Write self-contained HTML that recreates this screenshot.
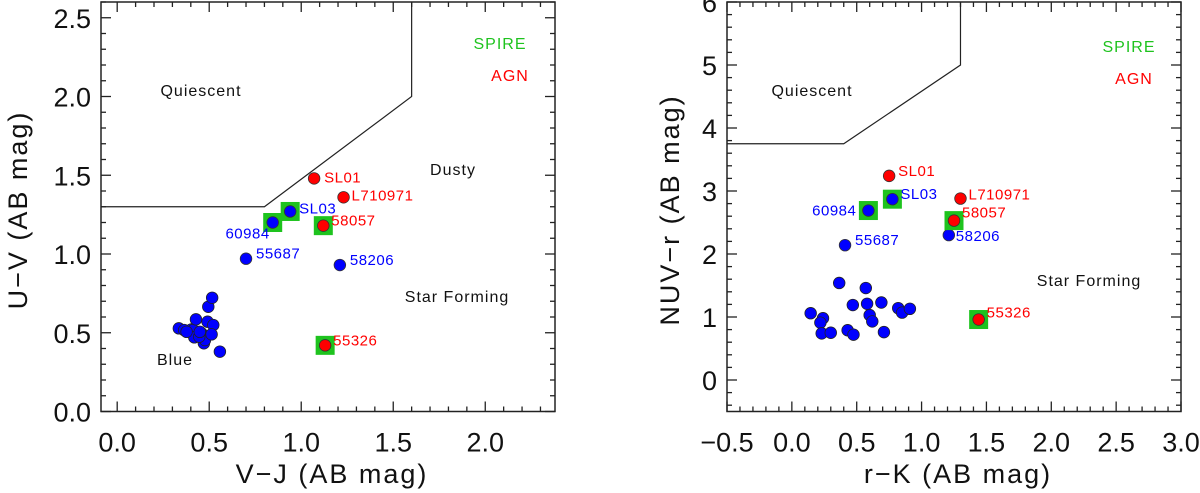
<!DOCTYPE html>
<html><head><meta charset="utf-8"><style>
html,body{margin:0;padding:0;background:#fff;}
svg{display:block;font-family:"Liberation Sans",sans-serif;}
</style></head><body>
<svg id="c" width="1200" height="493" viewBox="0 0 1200 493"></svg>
<script>
// ---- Left panel data (V-J vs U-V) ----
const leftRedX = [1.07, 1.23, 1.12, 1.13];
const leftRedY = [1.48, 1.36, 1.18, 0.42];
const leftRedNames = ["SL01", "L710971", "58057", "55326"];
const leftRedSpire = [false, false, true, true];
const leftBlueX = [0.94, 0.845, 0.70, 1.21];
const leftBlueY = [1.27, 1.20, 0.97, 0.93];
const leftBlueNames = ["SL03", "60984", "55687", "58206"];
const leftBlueSpire = [true, true, false, false];
const leftClusterX = [0.335,0.364,0.404,0.413,0.428,0.419,0.459,0.471,0.477,0.495,0.516,0.491,0.522,0.513,0.558,0.446,0.377,0.449];
const leftClusterY = [0.528,0.517,0.521,0.517,0.585,0.471,0.496,0.433,0.454,0.665,0.722,0.570,0.549,0.490,0.380,0.475,0.506,0.506];
const leftBoundX = [-0.09, 0.80, 1.60, 1.60];
const leftBoundY = [1.30, 1.30, 2.00, 2.60];
const leftXTicks = [0.0, 0.5, 1.0, 1.5, 2.0];
const leftXTickLabels = ["0.0", "0.5", "1.0", "1.5", "2.0"];
const leftYTicks = [0.0, 0.5, 1.0, 1.5, 2.0, 2.5];
const leftYTickLabels = ["0.0", "0.5", "1.0", "1.5", "2.0", "2.5"];

// ---- Right panel data (r-K vs NUV-r) ----
const rightRedX = [0.75, 1.30, 1.25, 1.44];
const rightRedY = [3.24, 2.88, 2.53, 0.96];
const rightRedNames = ["SL01", "L710971", "58057", "55326"];
const rightRedSpire = [false, false, true, true];
const rightBlueX = [0.775, 0.59, 0.41, 1.21];
const rightBlueY = [2.87, 2.69, 2.14, 2.30];
const rightBlueNames = ["SL03", "60984", "55687", "58206"];
const rightBlueSpire = [true, true, false, false];
const rightClusterX = [0.145,0.24,0.22,0.23,0.30,0.365,0.43,0.475,0.47,0.57,0.58,0.60,0.62,0.69,0.71,0.82,0.85,0.91];
const rightClusterY = [1.06,0.98,0.91,0.74,0.75,1.54,0.79,0.72,1.19,1.46,1.21,1.03,0.93,1.23,0.76,1.14,1.07,1.13];
const rightBoundX = [-0.5, 0.40, 1.30, 1.30];
const rightBoundY = [3.75, 3.75, 5.00, 6.00];
const rightXTicks = [-0.5, 0.0, 0.5, 1.0, 1.5, 2.0, 2.5, 3.0];
const rightXTickLabels = ["\u22120.5", "0.0", "0.5", "1.0", "1.5", "2.0", "2.5", "3.0"];
const rightYTicks = [0, 1, 2, 3, 4, 5, 6];
const rightYTickLabels = ["0", "1", "2", "3", "4", "5", "6"];

const NS = "http://www.w3.org/2000/svg";
const svg = document.getElementById("c");
function mk(tag, attrs, parent) {
  const e = document.createElementNS(NS, tag);
  for (const k in attrs) e.setAttribute(k, attrs[k]);
  (parent || svg).appendChild(e);
  return e;
}

function panel(cfg) {
  const g = mk("g", {});
  
  
  const sx = v => cfg.x0 + (v - cfg.xmin) / (cfg.xmax - cfg.xmin) * (cfg.x1 - cfg.x0);
  const sy = v => cfg.y1 - (v - cfg.ymin) / (cfg.ymax - cfg.ymin) * (cfg.y1 - cfg.y0);

  // boundary
  const pts = cfg.bx.map((v, i) => sx(v) + "," + sy(cfg.by[i])).join(" ");
  const bl = mk("polyline", {points: pts, fill: "none", stroke: "#222", "stroke-width": 1.2}, g);
  
  

  // ticks
  const tg = mk("g", {stroke: "#222", "stroke-width": 1.3}, g);
  
  
  for (let v = cfg.xmin; v <= cfg.xmax + 1e-9; v += 0.001) {}
  const xStart = Math.ceil(cfg.xmin / cfg.xminor - 1e-6);
  const xEnd = Math.floor(cfg.xmax / cfg.xminor + 1e-6);
  for (let i = xStart; i <= xEnd; i++) {
    const v = i * cfg.xminor;
    const major = Math.abs(v / cfg.xmajor - Math.round(v / cfg.xmajor)) < 1e-6;
    const L = major ? 10 : 5;
    const X = sx(v);
    mk("line", {x1: X, x2: X, y1: cfg.y1, y2: cfg.y1 - L}, tg);
    mk("line", {x1: X, x2: X, y1: cfg.y0, y2: cfg.y0 + L}, tg);
  }
  const yStart = Math.ceil(cfg.ymin / cfg.yminor - 1e-6);
  const yEnd = Math.floor(cfg.ymax / cfg.yminor + 1e-6);
  for (let i = yStart; i <= yEnd; i++) {
    const v = i * cfg.yminor;
    const major = Math.abs(v / cfg.ymajor - Math.round(v / cfg.ymajor)) < 1e-6;
    const L = major ? 10 : 5;
    const Y = sy(v);
    mk("line", {x1: cfg.x0, x2: cfg.x0 + L, y1: Y, y2: Y}, tg);
    mk("line", {x1: cfg.x1, x2: cfg.x1 - L, y1: Y, y2: Y}, tg);
  }
  // frame
  const fr = mk("rect", {x: cfg.x0, y: cfg.y0, width: cfg.x1 - cfg.x0, height: cfg.y1 - cfg.y0, fill: "none", stroke: "#222", "stroke-width": 1.5}, g);
  
  

  // tick labels
  cfg.xt.forEach((v, i) => {
    const t = mk("text", {x: sx(v), y: cfg.y1 + 40, "text-anchor": "middle", "font-size": 27, fill: "#111"}, g);
    t.textContent = cfg.xtl[i];
    
    
  });
  cfg.yt.forEach((v, i) => {
    const t = mk("text", {x: cfg.x0 - 10, y: sy(v) + 10, "text-anchor": "end", "font-size": 27, fill: "#111"}, g);
    t.textContent = cfg.ytl[i];
    
    
  });

  // axis titles
  const xt = mk("text", {x: cfg.xtitleX, y: 483, "text-anchor": "middle", "font-size": 27, fill: "#111", "letter-spacing": "2"}, g);
  xt.textContent = cfg.xtitle;
  
  
  const yt = mk("text", {x: 0, y: 0, "text-anchor": "middle", "font-size": 27, fill: "#111", "letter-spacing": "2",
    transform: "translate(" + cfg.ytitleX + "," + cfg.ytitleY + ") rotate(-90)"}, g);
  yt.textContent = cfg.ytitle;
  
  

  // cluster points
  cfg.cx.forEach((v, i) => {
    const c = mk("circle", {cx: sx(v), cy: sy(cfg.cy[i]), r: 5.8, fill: "#0000ff", stroke: "#222", "stroke-width": 0.8}, g);
    
    
  });

  function labelled(xs, ys, names, spire, color, kind) {
    xs.forEach((v, i) => {
      const X = sx(v), Y = sy(ys[i]);
      if (spire[i]) {
        const s = mk("rect", {x: X - 9.5, y: Y - 9.5, width: 19, height: 19, fill: "#1ec31e"}, g);
        
        
      }
      const c = mk("circle", {cx: X, cy: Y, r: 5.8, fill: color, stroke: "#333", "stroke-width": 0.8}, g);
      
      
      const off = cfg.labelOff[names[i]] || [10, 5, "start"];
      const t = mk("text", {x: X + off[0], y: Y + off[1], "text-anchor": off[2], "font-size": 15, fill: color, "letter-spacing": "0.5"}, g);
      t.textContent = names[i];
      
      
    });
  }
  labelled(cfg.blx, cfg.bly, cfg.bln, cfg.bls, "#0000ff", "blue");
  labelled(cfg.rx, cfg.ry, cfg.rn, cfg.rs, "#ff0000", "agn");

  cfg.texts.forEach(a => {
    const t = mk("text", {x: a[1], y: a[2], "text-anchor": "middle", "font-size": 16, fill: a[3], "letter-spacing": "1"}, g);
    t.textContent = a[0];
    
    
  });
}

panel({
  name: "uvj-panel", x0: 101, x1: 555, y0: 2, y1: 411.5,
  xmin: -0.088, xmax: 2.379, ymin: 0, ymax: 2.6,
  xmajor: 0.5, xminor: 0.1, ymajor: 0.5, yminor: 0.1,
  xt: leftXTicks, xtl: leftXTickLabels, yt: leftYTicks, ytl: leftYTickLabels,
  xtitle: "V\u2212J (AB mag)", xtitleX: 332, ytitle: "U\u2212V (AB mag)", ytitleX: 27, ytitleY: 210,
  bx: leftBoundX, by: leftBoundY,
  cx: leftClusterX, cy: leftClusterY,
  rx: leftRedX, ry: leftRedY, rn: leftRedNames, rs: leftRedSpire,
  blx: leftBlueX, bly: leftBlueY, bln: leftBlueNames, bls: leftBlueSpire,
  labelOff: {"SL01": [10, 4, "start"], "L710971": [8, 3, "start"], "58057": [8, 0, "start"], "55326": [8, 0, "start"],
             "SL03": [9, 2, "start"], "60984": [-3, 16, "end"], "55687": [10, 0, "start"], "58206": [10, 0, "start"]},
  texts: [["Quiescent", 201, 96, "#111", "quiescent-region-label"], ["Dusty", 453, 175, "#111", "dusty-region-label"],
          ["Star Forming", 457, 302, "#111", "star-forming-region-label"], ["Blue", 175, 365, "#111", "blue-region-label"],
          ["SPIRE", 500, 49, "#1ec31e", "legend-spire"], ["AGN", 510, 81, "#ff0000", "legend-agn"]]
});

panel({
  name: "nuvrk-panel", x0: 727, x1: 1181, y0: 2, y1: 411.5,
  xmin: -0.5, xmax: 3.0, ymin: -0.5, ymax: 6.0,
  xmajor: 0.5, xminor: 0.1, ymajor: 1, yminor: 0.2,
  xt: rightXTicks, xtl: rightXTickLabels, yt: rightYTicks, ytl: rightYTickLabels,
  xtitle: "r\u2212K (AB mag)", xtitleX: 958, ytitle: "NUV\u2212r (AB mag)", ytitleX: 679, ytitleY: 210,
  bx: rightBoundX, by: rightBoundY,
  cx: rightClusterX, cy: rightClusterY,
  rx: rightRedX, ry: rightRedY, rn: rightRedNames, rs: rightRedSpire,
  blx: rightBlueX, bly: rightBlueY, bln: rightBlueNames, bls: rightBlueSpire,
  labelOff: {"SL01": [9, 0, "start"], "L710971": [8, 1, "start"], "58057": [8, -3, "start"], "55326": [8, -2, "start"],
             "SL03": [8, 0, "start"], "60984": [-12, 5, "end"], "55687": [10, 0, "start"], "58206": [7, 6, "start"]},
  texts: [["Quiescent", 812, 96, "#111", "quiescent-region-label"], ["Star Forming", 1089, 286, "#111", "star-forming-region-label"],
          ["SPIRE", 1129, 52, "#1ec31e", "legend-spire"], ["AGN", 1134, 84, "#ff0000", "legend-agn"]]
});
</script>
</body></html>
